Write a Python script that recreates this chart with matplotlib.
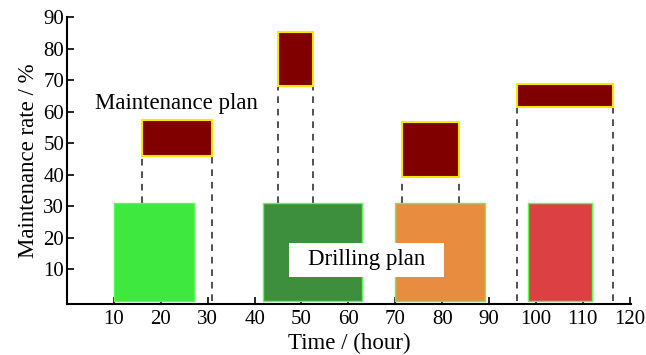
"""
Drilling plan vs maintenance plan chart.
"""
import numpy as np
import matplotlib
matplotlib.use('Agg')
import matplotlib.pyplot as plt
from matplotlib import rcParams
from matplotlib.patches import Rectangle

# drilling plan bars (hours) and rate
drill_start = [10.0, 41.7, 70.0, 98.3]
drill_end = [27.0, 63.0, 89.1, 112.0]
drill_height = [31, 31, 31, 31]
drill_colors = ['#3fe83f', '#3d8f3d', '#e88c40', '#dc4043']

# maintenance plan boxes (hours) and rate range
maint_start = [16.0, 45.0, 71.4, 96.0]
maint_end = [30.9, 52.4, 83.5, 116.4]
maint_low = [46.0, 68.0, 39.2, 61.6]
maint_high = [57.3, 85.2, 56.7, 68.7]

x_ticks = [10, 20, 30, 40, 50, 60, 70, 80, 90, 100, 110, 120]
y_ticks = [10, 20, 30, 40, 50, 60, 70, 80, 90]

# Set up fonts
rcParams['font.family'] = 'serif'
rcParams['font.serif'] = ['Liberation Serif', 'DejaVu Serif']
rcParams['font.size'] = 14

fig = plt.figure(figsize=(6.46, 3.55), dpi=100, facecolor='white')
ax = fig.add_axes([0.1037, 0.1437, 0.8733, 0.8083])

# drilling plan
widths = np.array(drill_end) - np.array(drill_start)
ax.bar(drill_start, drill_height, width=widths, align='edge',
       color=drill_colors, edgecolor='#55ff55', linewidth=1.0, zorder=2)

# maintenance plan
mwidths = np.array(maint_end) - np.array(maint_start)
mheights = np.array(maint_high) - np.array(maint_low)
ax.bar(maint_start, mheights, width=mwidths, bottom=maint_low, align='edge',
       color='#800000', edgecolor='#ffe600', linewidth=1.5, zorder=3)

# dashed guides from each maintenance box down to drilling bar or axis
for xs, low in zip(maint_start + maint_end, maint_low + maint_low):
    bottom = 0
    for s, e, h in zip(drill_start, drill_end, drill_height):
        if s <= xs <= e:
            bottom = h
    ax.plot([xs, xs], [bottom, low], color='#333333', lw=1.2,
            dashes=(4, 3.5), zorder=1)

ax.text(6.0, 62.7, 'Maintenance plan', fontsize=16.5, ha='left', va='center')

# white label box for the drilling plan
ax.add_patch(Rectangle((47.4, 7.7), 33.0, 10.5, facecolor='white',
                       edgecolor='none', zorder=4))
ax.text(63.9, 13.0, 'Drilling plan', fontsize=16.5, ha='center', va='center',
        zorder=5)

ax.set_xlim(0, 120.3)
ax.set_ylim(-1, 90)
ax.set_xticks(x_ticks)
ax.set_yticks(y_ticks)
ax.tick_params(direction='in', length=5, width=1.2, labelsize=15)
ax.tick_params(axis='x', pad=4)
ax.tick_params(axis='y', pad=2)
for side in ['top', 'right']:
    ax.spines[side].set_visible(False)
for side in ['left', 'bottom']:
    ax.spines[side].set_linewidth(1.5)

ax.set_xlabel('Time / (hour)', fontsize=16.5, labelpad=3)
ax.set_ylabel('Maintenance rate / %', fontsize=16.5, labelpad=3)

plt.savefig('out.png', dpi=100, facecolor='white')
